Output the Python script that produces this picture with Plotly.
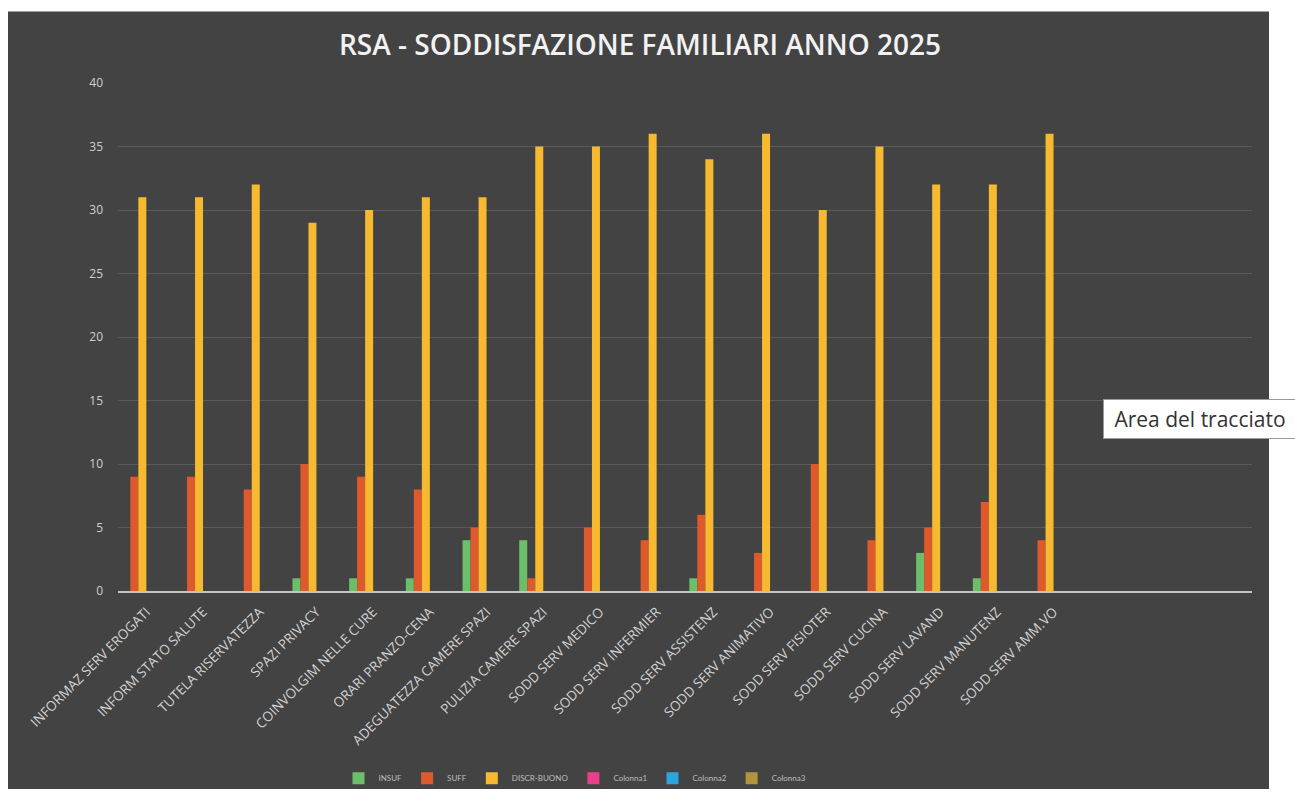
import plotly.graph_objects as go

categories = [
    "INFORMAZ SERV EROGATI", "INFORM STATO SALUTE", "TUTELA RISERVATEZZA",
    "SPAZI PRIVACY", "COINVOLGIM NELLE CURE", "ORARI PRANZO-CENA",
    "ADEGUATEZZA CAMERE SPAZI", "PULIZIA CAMERE SPAZI", "SODD SERV MEDICO",
    "SODD SERV INFERMIER", "SODD SERV ASSISTENZ", "SODD SERV ANIMATIVO",
    "SODD SERV FISIOTER", "SODD SERV CUCINA", "SODD SERV LAVAND",
    "SODD SERV MANUTENZ", "SODD SERV AMM.VO",
]
insuf = [0, 0, 0, 1, 1, 1, 4, 4, 0, 0, 1, 0, 0, 0, 3, 1, 0]
suff = [9, 9, 8, 10, 9, 8, 5, 1, 5, 4, 6, 3, 10, 4, 5, 7, 4]
discr_buono = [31, 31, 32, 29, 30, 31, 31, 35, 35, 36, 34, 36, 30, 35, 32, 32, 36]
colonna1 = [None] * len(categories)
colonna2 = [None] * len(categories)
colonna3 = [None] * len(categories)

series = [
    ("INSUF", insuf, "#6cbf6a"),
    ("SUFF", suff, "#de5a2c"),
    ("DISCR-BUONO", discr_buono, "#f6b92f"),
    ("Colonna1", colonna1, "#e8408a"),
    ("Colonna2", colonna2, "#2aa6dc"),
    ("Colonna3", colonna3, "#b3943c"),
]

FONT = "'Open Sans', sans-serif"
BG = "#434343"

fig = go.Figure()
for name, vals, col in series:
    fig.add_trace(go.Bar(name=name, x=categories, y=vals, marker_color=col,
                         marker_line_width=0, showlegend=True))

W, H = 1295, 804
KY = 1.01  # vertical compensation for the capture
L, R = 118, 43
T = round(82 * KY)
B = H - round(595 * KY)
pw, ph = W - L - R, H - T - B

def px_x(p):
    return (p - L) / pw

def px_y(p):
    return (H - B - p * KY) / ph

fig.update_layout(
    width=W, height=H,
    margin=dict(l=L, r=R, t=T, b=B),
    paper_bgcolor="white",
    plot_bgcolor="rgba(0,0,0,0)",
    barmode="group",
    bargap=0.153,
    bargroupgap=0,
    font=dict(family=FONT, color="#cfcfcf"),
    title=dict(text="RSA - SODDISFAZIONE FAMILIARI ANNO 2025",
               x=640 / W, xanchor="center", y=1 - 45 * KY / H,
               yanchor="middle",
               font=dict(size=28, color="#f2f2f2", family=FONT, weight=600)),
    xaxis=dict(type="category", range=[-0.5, 19.5], tickangle=-45,
               showgrid=False, showline=True, linecolor="#c4c4c4", linewidth=1.5,
               ticks="", ticklabelstandoff=6,
               tickfont=dict(size=13.5, color="#d2d2d2", family=FONT),
               zeroline=False),
    yaxis=dict(range=[0, 40], dtick=5, showgrid=True, gridcolor="#5b5b5b",
               gridwidth=1, zeroline=False, showline=False, ticks="",
               ticklabelstandoff=14,
               tickfont=dict(size=12, color="#cfcfcf", family=FONT)),
    legend=dict(orientation="h", x=px_x(575), xanchor="center",
                y=px_y(784), yanchor="middle", bgcolor="rgba(0,0,0,0)",
                font=dict(size=8, color="#bdbdbd", family="Lato, sans-serif"),
                itemwidth=30, traceorder="normal"),
    shapes=[dict(type="rect", xref="paper", yref="paper",
                 x0=px_x(8), x1=px_x(1269), y0=px_y(795), y1=px_y(10),
                 fillcolor=BG, line=dict(width=0), layer="below")],
    annotations=[dict(text="&nbsp;Area del tracciato", xref="paper", yref="paper",
                      x=px_x(1103), xanchor="left", y=px_y(421.5), yanchor="middle",
                      width=200, align="left",
                      showarrow=False, bgcolor="white", bordercolor="#9a9a9a",
                      borderwidth=1, borderpad=5,
                      font=dict(size=21, color="#333333", family=FONT))],
)

fig.write_html("out.html", config={"displayModeBar": False},
               post_script="document.body.style.margin='0px';document.body.style.overflow='hidden';")
